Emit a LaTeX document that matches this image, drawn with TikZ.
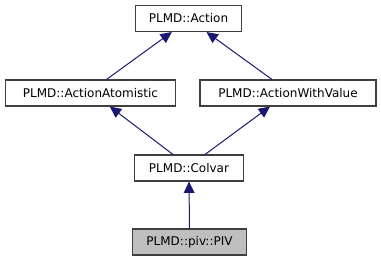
\documentclass[tikz,border=0pt]{standalone}
\usepackage{fontspec}
\setmainfont{DejaVu Sans}
\usetikzlibrary{arrows.meta}
\definecolor{edgeblue}{RGB}{25,25,112}
\definecolor{boxline}{RGB}{64,64,64}
\definecolor{curgrey}{RGB}{191,191,191}

\begin{document}
\begin{tikzpicture}[x=0.75pt, y=-0.75pt,
  cls/.style={draw=boxline, line width=0.8pt, fill=white, inner sep=0pt,
              minimum height=19.5pt, font=\fontsize{9}{11}\selectfont},
  edge/.style={draw=edgeblue, line width=0.75pt, -{Triangle[length=8.5pt, width=8pt]}}]
  % frame of the picture
  \useasboundingbox (0,0) rectangle (381,261);

  % 1. classes
  \node[cls, minimum width=80pt]  (action) at (188.5,18.5) {PLMD::Action};
  \node[cls, minimum width=128pt] (atom)   at (90.5,93)    {PLMD::ActionAtomistic};
  \node[cls, minimum width=132pt] (value)  at (288,93)     {PLMD::ActionWithValue};
  \node[cls, minimum width=82pt]  (colvar) at (189,168)    {PLMD::Colvar};
  \node[cls, minimum width=86pt, fill=curgrey] (piv) at (189.5,242) {PLMD::piv::PIV};

  % 2. inheritance arrows (child -> parent)
  \draw[edge] ([xshift=12pt]atom.north)    -- ([xshift=-12.5pt]action.south);
  \draw[edge] ([xshift=-12pt]value.north)  -- ([xshift=13.5pt]action.south);
  \draw[edge] ([xshift=-12pt]colvar.north) -- ([xshift=14.5pt]atom.south);
  \draw[edge] ([xshift=12pt]colvar.north)  -- ([xshift=-13.5pt]value.south);
  \draw[edge] (piv.north) -- (colvar.south);
\end{tikzpicture}
\end{document}
